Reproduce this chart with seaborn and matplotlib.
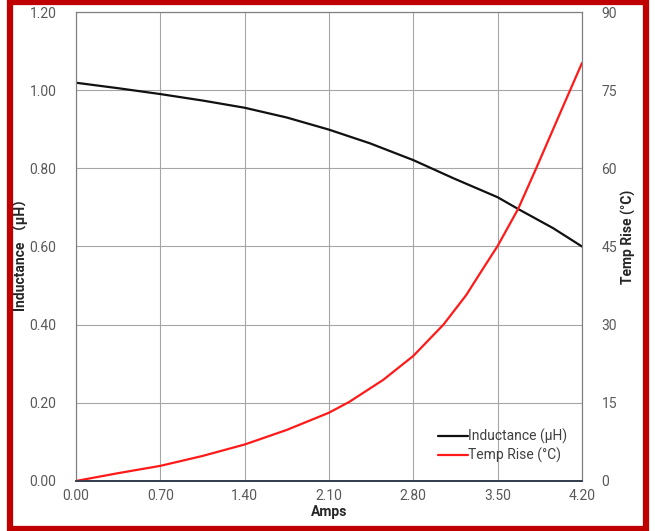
import matplotlib
matplotlib.use("Agg")
import matplotlib.pyplot as plt
import seaborn as sns
import pandas as pd
from matplotlib.patches import Rectangle
from matplotlib.lines import Line2D

# ── Data ───────────────────────────────────────────────────────
amps_l = [0.0, 0.35, 0.70, 1.06, 1.40, 1.75, 2.10, 2.44, 2.80, 3.13, 3.50, 3.67, 3.96, 4.20]
inductance = [1.019, 1.005, 0.990, 0.973, 0.955, 0.930, 0.899, 0.864, 0.821, 0.775, 0.726, 0.696, 0.647, 0.600]

amps_t = [0.0, 0.35, 0.70, 1.05, 1.40, 1.75, 2.10, 2.27, 2.55, 2.80, 3.05, 3.24,
          3.38, 3.50, 3.67, 3.82, 4.03, 4.20]
temp_rise = [0.0, 1.5, 2.9, 4.8, 7.0, 9.8, 13.1, 15.2, 19.4, 24.0, 30.0, 35.7,
             40.8, 45.1, 52.2, 60.0, 71.2, 80.2]

x_ticks = [0.0, 0.70, 1.40, 2.10, 2.80, 3.50, 4.20]
left_ticks = [0.0, 0.20, 0.40, 0.60, 0.80, 1.00, 1.20]
right_ticks = [0, 15, 30, 45, 60, 75, 90]

df_l = pd.DataFrame({"Amps": amps_l, "Inductance": inductance})
df_t = pd.DataFrame({"Amps": amps_t, "Temp": temp_rise})

sns.set_style("white")
plt.rcParams['font.family'] = ['Roboto', 'Noto Sans CJK SC', 'DejaVu Sans']

fig = plt.figure(figsize=(6.55, 5.31), dpi=100)
ax = fig.add_axes([0.116, 0.0942, 0.7725, 0.8832])
ax2 = ax.twinx()

sns.lineplot(data=df_l, x="Amps", y="Inductance", ax=ax, color="#111111", lw=1.6)
sns.lineplot(data=df_t, x="Amps", y="Temp", ax=ax2, color="#ff1a1a", lw=1.6)

tick_col = "#595959"
ax.set_xlim(0, 4.2)
ax.set_ylim(0, 1.2)
ax2.set_ylim(0, 90)
ax.set_xticks(x_ticks)
ax.set_xticklabels([f"{v:.2f}" for v in x_ticks])
ax.set_yticks(left_ticks)
ax.set_yticklabels([f"{v:.2f}" for v in left_ticks])
ax2.set_yticks(right_ticks)
ax2.set_yticklabels([str(v) for v in right_ticks])

ax.tick_params(axis="both", length=0, labelsize=10, labelcolor=tick_col, pad=14)
ax.tick_params(axis="x", pad=6)
ax2.tick_params(axis="y", length=0, labelsize=10, labelcolor=tick_col, pad=14)

ax.grid(True, color="#a6a6a6", lw=0.8)
ax.set_axisbelow(True)

for a in (ax, ax2):
    for s in a.spines.values():
        s.set_color("#7f7f7f")
        s.set_linewidth(0.8)
    a.spines["bottom"].set_color("#2f3b4c")
    a.spines["bottom"].set_linewidth(1.2)

ax.set_xlabel("Amps", fontsize=10, fontweight="bold", labelpad=1)
ax.set_ylabel("Inductance （μH）", fontsize=10, fontweight="bold")
ax.yaxis.set_label_coords(-0.094, 0.49)
ax2.set_ylabel("Temp Rise (°C)", fontsize=10, fontweight="bold")
ax2.yaxis.set_label_coords(1.078, 0.52)

handles = [Line2D([0], [0], color="#111111", lw=1.6),
           Line2D([0], [0], color="#ff1a1a", lw=1.6)]
ax2.legend(handles, ["Inductance (μH)", "Temp Rise (°C)"], loc="upper left",
           bbox_to_anchor=(0.715, 0.112), frameon=False, fontsize=10,
           borderpad=0, borderaxespad=0,
           handlelength=2.2, handletextpad=0.0, labelspacing=0.3,
           labelcolor="#404040")

# red frame around the whole picture
fig.patches.append(Rectangle((9.5 / 655, 2 / 531), 636 / 655, 527 / 531,
                             transform=fig.transFigure, fill=False,
                             edgecolor="#c00000", lw=4.5))

fig.savefig("out.png", dpi=100)
